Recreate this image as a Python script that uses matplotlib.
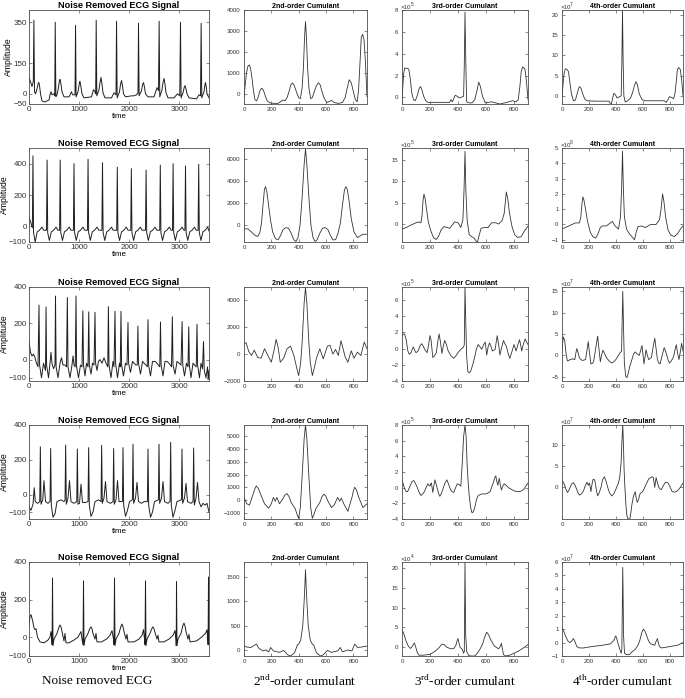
import matplotlib
matplotlib.use("Agg")
import matplotlib.pyplot as plt
import matplotlib.font_manager as fm

# --- DATA ---
# ECG traces: (sample, amplitude) vertices
ECG_1 = [(0, 80), (30, 60), (60, 35), (86, 60), (98, 360), (110, 10), (130, 0), (150, 15), (170, 35), (185, 52),
         (197, 55), (210, 40), (230, 0), (260, -35), (320, -40), (400, -30), (425, 0), (440, 10), (460, -5),
         (500, 0), (515, -10), (525, 350), (537, -15), (560, -5), (585, 25), (600, 50), (612, 68), (623, 70),
         (640, 45), (660, 10), (700, -15), (800, -15), (850, 10), (870, -5), (920, -5), (931, 335),
         (942, -15), (980, 10), (1000, 40), (1012, 58), (1020, 60), (1035, 40), (1060, 0), (1100, -20),
         (1250, -15), (1290, 20), (1320, 10), (1334, 0), (1344, 360), (1356, -10), (1400, 20), (1420, 55),
         (1440, 80), (1458, 50), (1480, 5), (1520, -20), (1650, -20), (1700, 5), (1740, -5), (1751, 355),
         (1763, -20), (1810, 10), (1830, 45), (1850, 65), (1868, 40), (1890, 0), (1930, -15), (2050, -10),
         (2100, -10), (2150, -5), (2180, 5), (2190, 345), (2202, -10), (2250, 15), (2272, 45), (2290, 55),
         (2308, 35), (2330, 0), (2380, -15), (2500, -15), (2560, 30), (2590, 15), (2603, 355), (2615, -15),
         (2660, 20), (2680, 55), (2700, 75), (2718, 50), (2740, 5), (2780, -20), (2900, -20), (2970, 0),
         (3015, -10), (3030, 350), (3042, -20), (3080, 5), (3105, 32), (3120, 40), (3138, 25), (3160, 0),
         (3200, -20), (3350, -25), (3400, -5), (3430, -10), (3443, 345), (3455, -20), (3500, 10),
         (3515, 40), (3530, 55), (3545, 35), (3560, 0), (3600, -20)]

ECG_2 = [(0, 60), (30, 30), (67, -10), (79, 450), (91, -40), (124, -100), (164, -35), (209, -25),
         (259, -5), (294, -25),
         (350, -25), (362, 423), (374, -40), (407, -90), (447, -35), (492, -25), (542, -5), (577, -25),
         (612, -25), (624, 423), (636, -40), (669, -90), (709, -35), (754, -25), (804, -5), (839, -25),
         (888, -25), (900, 400), (912, -40), (945, -90), (985, -35), (1030, -25), (1080, -5), (1115, -25),
         (1169, -25), (1181, 428), (1193, -40), (1226, -90), (1266, -35), (1311, -25), (1361, -5),
         (1396, -25),
         (1458, -25), (1470, 406), (1482, -40), (1515, -90), (1555, -35), (1600, -25), (1650, -5),
         (1685, -25),
         (1754, -25), (1766, 378), (1778, -40), (1811, -90), (1851, -35), (1896, -25), (1946, -5),
         (1981, -25),
         (2035, -25), (2047, 368), (2059, -40), (2092, -90), (2132, -35), (2177, -25), (2227, -5),
         (2262, -25),
         (2330, -25), (2342, 359), (2354, -40), (2387, -90), (2427, -35), (2472, -25), (2522, -5),
         (2557, -25),
         (2614, -25), (2626, 391), (2638, -40), (2671, -90), (2711, -35), (2756, -25), (2806, -5),
         (2841, -25),
         (2870, -25), (2882, 400), (2894, -40), (2927, -90), (2967, -35), (3012, -25), (3062, -5),
         (3097, -25),
         (3118, -25), (3130, 385), (3142, -40), (3175, -90), (3215, -35), (3260, -25), (3310, -5),
         (3345, -25),
         (3382, -25), (3394, 396), (3406, -40), (3439, -90), (3479, -35), (3524, -25), (3574, -5),
         (3600, -30)]

ECG_3 = [(0, 100), (30, 40), (60, 20), (90, 30), (120, 10), (150, -20), (180, -40), (200, 300),
         (212, -30), (250, -100), (290, -20), (310, -40), (330, -60), (341, 290), (352, -30),
         (390, -100), (420, -20), (440, 40), (460, -20), (490, -50), (520, -30), (530, 350),
         (542, -40), (580, -100), (620, -20), (650, 10), (680, -30), (720, -30), (750, -40),
         (767, 342), (780, -40), (820, -100), (860, -30), (880, 20), (900, -30), (925, -40),
         (940, 350), (952, -40), (990, -100), (1030, -30), (1060, -40), (1077, 268), (1090, -30),
         (1120, -90), (1150, -20), (1180, -40), (1195, 263), (1207, -30), (1240, -80), (1270, -20),
         (1300, -30), (1320, 260), (1332, -20), (1360, -60), (1390, -10), (1420, 0), (1460, -20),
         (1500, 10), (1540, -20), (1575, -40), (1588, 292), (1600, -30), (1640, -100), (1680, -10),
         (1700, -40), (1720, 266), (1732, -20), (1770, -100), (1810, -20), (1825, -40), (1840, 266),
         (1852, -30), (1890, -90), (1930, -20), (1960, -30), (1980, 205), (1992, -20), (2030, -70),
         (2070, -10), (2100, -20), (2140, -30), (2165, -30), (2178, 185), (2190, -20), (2230, -80),
         (2270, -10), (2300, -20), (2340, -30), (2365, -40), (2380, 220), (2392, -30), (2430, -90),
         (2470, -10), (2520, -10), (2560, -20), (2615, -40), (2630, 207), (2642, -30), (2680, -90),
         (2720, -10), (2760, -10), (2800, -20), (2850, -40), (2867, 236), (2880, -30), (2920, -80),
         (2960, -10), (3000, -20), (3040, -30), (3062, 210), (3075, -30), (3110, -90), (3150, -20),
         (3180, -40), (3195, 180), (3207, -30), (3240, -100), (3280, -20), (3310, -30), (3345, -40),
         (3360, 195), (3372, -30), (3410, -100), (3440, -20), (3470, -50), (3490, 100), (3505, -60),
         (3540, -100), (3570, -40), (3585, -110), (3600, -60)]

ECG_4 = [(0, -70), (40, -90), (80, -55), (105, 40), (125, -40), (170, -50), (215, -40),
         (227, 275), (240, -55), (275, -30), (300, 80), (330, -40), (380, -50), (421, -40),
         (433, 265), (446, -60), (480, -130), (520, -110), (560, -40), (640, -30), (700, -40), (721, -30),
         (733, 285), (746, -55), (780, -20), (810, 80), (840, -40), (900, -50), (955, -40),
         (967, 262), (980, -55), (1010, -50), (1040, 60), (1070, -45), (1130, -45), (1181, -40),
         (1193, 270), (1206, -60), (1240, -125), (1280, -100), (1320, -40), (1390, -30), (1441, -40),
         (1453, 283), (1466, -50), (1500, -20), (1530, 75), (1560, -40), (1630, -50), (1681, -40),
         (1693, 265), (1706, -55), (1740, -30), (1770, 80), (1800, -40), (1868, -40),
         (1880, 270), (1893, -60), (1930, -125), (1970, -90), (2010, -40), (2068, -30),
         (2080, 290), (2093, -50), (2130, -20), (2160, 70), (2190, -40), (2250, -50), (2300, -40),
         (2368, -40),
         (2380, 262), (2393, -60), (2430, -130), (2470, -100), (2510, -40), (2588, -30),
         (2600, 290), (2613, -50), (2650, -20), (2680, 75), (2710, -40), (2780, -50), (2821, -40),
         (2833, 300), (2846, -60), (2880, -130), (2920, -90), (2960, -40), (3048, -30),
         (3060, 262), (3073, -50), (3110, -20), (3140, 65), (3170, -40), (3240, -50), (3281, -40),
         (3293, 268), (3306, -60), (3340, -20), (3370, 70), (3400, -40), (3440, -70), (3480, -50),
         (3520, -60), (3560, -50), (3600, -100)]

ECG_5 = [(0, 60), (20, 110), (40, 120), (70, 90), (100, 50), (120, 40), (140, 45), (170, 0),
         (220, -25), (300, -30), (380, -15), (420, 0), (440, 30), (455, -5), (462, -40), (470, 315),
         (480, -45), (500, -10), (560, 20), (595, 50), (620, 65), (640, 55), (660, 30), (700, -20),
         (720, 20), (740, -30), (800, -30), (900, -15), (980, 0), (1040, 30), (1060, -10), (1080, -40),
         (1090, 300), (1100, -45), (1120, -10), (1180, 20), (1215, 45), (1240, 55), (1260, 45), (1280, 20),
         (1320, -10), (1340, 20), (1360, -25), (1450, -25), (1550, -10), (1620, 10), (1660, 35), (1690, -10),
         (1700, -40), (1710, 315), (1720, -45), (1740, -10), (1800, 20), (1835, 55), (1860, 70), (1880, 55),
         (1900, 30), (1940, -10), (1960, 15), (1980, -25), (2100, -25), (2200, -10), (2260, 10), (2290, 40),
         (2310, -10), (2320, -40), (2330, 300), (2340, -45), (2360, -10), (2420, 20), (2455, 45), (2480, 55),
         (2500, 45), (2520, 25), (2560, -10), (2580, 10), (2600, -25), (2700, -25), (2800, -10), (2880, 10),
         (2920, 35), (2940, -10), (2945, -45), (2950, 295), (2960, -45), (2980, -10), (3040, 20), (3075, 60),
         (3100, 75), (3120, 60), (3140, 30), (3180, -10), (3200, 15), (3220, -25), (3350, -20), (3450, 0),
         (3530, 20), (3560, 40), (3575, -10), (3582, -40), (3590, 320), (3600, -40)]

# 2nd-order cumulants: (lag, value)
CUM2_1 = [(0, -100), (8, 400), (18, 1000), (28, 1330), (38, 1400), (48, 1250), (58, 800), (68, 250),
          (80, -250), (92, -300), (105, -100), (118, 200), (130, 300), (142, 200), (155, -50), (170, -300),
          (190, -400), (220, -420), (250, -420), (270, -330), (285, -260), (300, -300), (315, -150),
          (330, 150), (342, 450), (355, 550), (368, 420), (385, 100), (400, -150), (412, -200), (425, 300),
          (435, 1300), (443, 2700), (450, 3450), (457, 2700), (465, 1300), (475, 300), (488, -200),
          (500, -150), (515, 150), (530, 420), (545, 550), (558, 450), (570, 150), (585, -150), (605, -380),
          (625, -330), (640, -280), (660, -380), (690, -420), (720, -380), (740, -150), (755, 300),
          (770, 700), (785, 550), (800, 150), (815, -250), (828, -350), (838, 200), (848, 1400),
          (858, 2700), (868, 2850), (878, 2600), (888, 1600), (900, -100)]
CUM2_2 = [(0, -300), (30, -320), (55, -600), (80, -900), (100, -1000), (115, -700), (128, 200),
          (140, 2000), (150, 3300), (158, 3500), (168, 3000), (180, 1800), (195, 400), (210, -600),
          (230, -1200), (250, -1300), (268, -900), (285, -400), (305, -200), (325, -250), (345, -700),
          (365, -1300), (380, -1450), (395, -1100), (410, 0), (425, 2500), (440, 5500), (450, 6900),
          (460, 5500), (475, 2500), (490, 0), (505, -1100), (520, -1450), (535, -1300), (555, -700),
          (575, -250), (595, -200), (615, -400), (632, -900), (650, -1300), (670, -1300), (688, -700),
          (705, 200), (720, 1800), (735, 3200), (745, 3500), (755, 3300), (768, 2300), (785, 600),
          (805, -600), (830, -1100), (850, -950), (870, -800), (900, -800)]
CUM2_3 = [(0, 750), (15, 850), (35, 200), (55, -100), (75, 300), (100, -250), (125, -300), (150, 400),
          (175, -100), (200, -600), (220, 300), (235, 1100), (250, 500), (265, -600), (290, -300),
          (315, 400), (340, 600), (365, -100), (385, -1000), (400, -1600), (415, -600), (425, 800),
          (440, 3800), (450, 4950), (460, 3800), (475, 800), (485, -600), (500, -1600), (515, -1000),
          (530, -300), (555, 400), (580, -350), (610, 600), (630, 650), (650, 0), (670, 350), (690, -100),
          (710, 1000), (740, -200), (760, -600), (785, 250), (805, -300), (830, 150), (855, -100),
          (880, 900), (900, 400)]
CUM2_4 = [(0, 200), (20, -300), (40, -400), (65, 400), (80, 900), (90, 1100), (105, 900), (120, 500),
          (150, -300), (180, -650), (200, -300), (215, 200), (228, -100), (240, 200), (260, -300),
          (285, 100), (300, 400), (315, 500), (330, 250), (345, -200), (375, -700), (390, -1200),
          (400, -1450), (412, -600), (425, 1800), (440, 4800), (450, 5900), (460, 4800), (475, 1800),
          (488, -600), (500, -1450), (510, -1200), (525, -700), (555, -200), (570, 250), (585, 450),
          (600, 300), (610, 0), (640, -600), (660, -400), (685, 200), (700, -100), (712, 150),
          (730, -300), (760, -900), (790, 200), (800, 700), (810, 1000), (822, 800), (840, 200),
          (870, -600), (900, -300)]
CUM2_5 = [(0, 80), (20, 60), (50, 50), (90, 120), (110, 30), (140, -20), (160, 0), (180, -40), (195, 50),
          (215, -20), (260, -50), (290, -10), (320, -100), (340, -125), (370, -60), (390, 100),
          (400, 120), (415, 200), (430, 500), (440, 1000), (445, 1300), (450, 1650), (455, 1300),
          (460, 1000), (470, 500), (485, 200), (500, 120), (510, 100), (530, -60), (560, -125),
          (580, -100), (610, -10), (640, -50), (685, -20), (705, 50), (720, -40), (740, -20), (760, 0),
          (790, -20), (810, 120), (830, 50), (860, 60), (900, 80)]

# 3rd-order cumulants (scaled by 10^exp)
CUM3_1 = [(0, -0.3), (6, 1), (12, 2.2), (20, 2.7), (35, 2.65), (48, 2.6), (58, 1.8), (70, 0.4),
          (82, -0.2), (95, -0.3), (110, 0.2), (122, 0.8), (132, 1.0), (142, 0.7), (155, 0.1), (170, -0.3),
          (185, -0.45), (250, -0.45), (340, -0.45), (350, -0.2), (360, -0.4), (370, -0.1), (380, 0.2),
          (395, 0.1), (410, -0.05), (440, 0.1), (445, 3), (450, 7.8), (456, 3), (462, -0.4), (480, -0.5),
          (500, -0.5), (520, -0.2), (535, 0.6), (548, 1.4), (560, 1.0), (575, 0.1), (595, -0.5),
          (640, -0.4), (700, -0.6), (750, -0.45), (790, -0.3), (815, -0.4), (830, -0.2), (842, 1.0),
          (852, 2.4), (862, 2.8), (878, 2.6), (888, 1.6), (900, -0.2)]
CUM3_2 = [(0, -1.2), (30, -0.8), (60, -0.3), (100, 0.3), (120, 0.5), (135, 0.3), (143, 2), (150, 5.5),
          (157, 7), (165, 6), (175, 3.5), (188, 0.5), (205, -1.5), (225, -3.2), (245, -3.6), (262, -2.8),
          (280, -1.3), (300, -0.6), (320, -0.8), (340, -1), (360, -0.2), (375, 0.5), (400, 0.3),
          (420, -0.8), (435, 1), (443, 8), (450, 17), (456, 8), (465, 1), (480, -2.5), (500, -3),
          (515, -3.3), (530, -4), (540, -4.2), (552, -2.5), (565, -1), (590, -0.8), (615, -0.8),
          (640, 0.3), (670, 0.3), (690, 0), (715, 0.8), (730, 2.5), (745, 7.5), (755, 6), (768, 2.5),
          (785, -0.5), (805, -2.5), (825, -3.1), (850, -3), (875, -1.6), (900, -0.5)]
CUM3_3 = [(0, 1.5), (8, 1.8), (18, 1.8), (30, 1.1), (42, -0.3), (52, -0.7), (65, -0.5), (75, 0.0),
          (82, 0.2), (90, -0.2), (100, -0.5), (115, -0.3), (128, 0.3), (140, 0.6), (152, 0.3), (165, -0.2),
          (180, -0.5), (190, 0.5), (200, 1.6), (208, 1.0), (220, -1.1), (232, -0.9), (245, -0.5),
          (255, 0.8), (265, 1.8), (275, 0.8), (285, -0.6), (295, 0.3), (305, 1), (315, 0.6), (330, -0.3),
          (350, -0.9), (370, -1.2), (385, -0.9), (400, -0.5), (420, -0.1), (440, 0.2), (445, 0.5),
          (450, 7.6), (456, 3), (462, -1), (470, -2.8), (480, -3), (490, -2.8), (505, -2), (520, -1),
          (532, 0), (545, 0.5), (558, 0.2), (570, -0.1), (583, 0.5), (595, 0.8), (605, -0.8), (615, 0.2),
          (625, 0.7), (635, 0.3), (645, -0.3), (665, -0.1), (673, 0.8), (680, 1.6), (690, 0.5),
          (700, -0.8), (712, 0.2), (725, 1), (735, 0.6), (745, 0.3), (758, -0.6), (770, -1.2),
          (785, -0.4), (800, 0.5), (808, 0.1), (815, -0.3), (828, 0.5), (840, 1.1), (848, 0.4),
          (855, -0.3), (868, 0.6), (880, 1.2), (890, 0.8), (900, 0.5)]
CUM3_4 = [(0, 1), (10, 0.4), (20, -0.2), (30, -0.5), (40, -0.5), (50, -0.1), (60, 0.3), (72, 0.8),
          (85, 0.9), (97, 0.5), (110, 0), (122, -0.6), (135, -1), (148, -0.8), (160, -0.5), (172, 0),
          (185, 0.5), (192, 0.3), (200, 0.2), (205, 0.5), (210, 0.6), (215, 0), (220, -0.6), (228, 0.3),
          (235, 1), (243, 0.5), (255, -0.3), (262, -0.8), (270, -1.1), (280, -0.8), (290, -0.3),
          (305, 0.5), (320, 1), (332, 0.5), (345, -0.2), (357, -0.5), (370, -0.6), (383, 0), (395, 0.5),
          (408, 0.4), (420, 0.2), (430, 3), (440, 6.5), (450, 8), (458, 6.5), (465, 3), (472, 0.8),
          (480, -1), (490, -2.5), (500, -3.2), (510, -3.1), (520, -2.5), (532, -1.5), (545, -1),
          (570, -0.8), (600, -0.8), (630, -0.5), (643, 0.2), (655, 0.8), (663, 1.3), (670, 1.5),
          (677, 0.8), (685, 0.3), (690, 0.8), (695, 1.2), (702, 0.4), (710, -0.3), (720, 0.2),
          (730, 0.5), (745, 0.3), (760, 0), (780, -0.2), (800, -0.4), (820, -0.5), (840, -0.5),
          (855, -0.4), (870, -0.2), (885, 0.2), (900, 0.6)]
CUM3_5 = [(0, 4.5), (15, 3.2), (30, 1.5), (45, 0.3), (60, -0.3), (75, 0.3), (88, 1.1), (97, 0.2),
          (108, -1.2), (120, -2), (150, -2), (200, -1.8), (240, -0.9), (265, -0.1), (285, 0.8),
          (300, 0.7), (320, 0), (350, -0.4), (370, -0.3), (385, 0.5), (395, 1.8), (400, 2.2), (406, 1.2),
          (415, 0), (430, -0.5), (440, -1.5), (445, -1), (450, 21.5), (455, 3), (462, -1), (475, -2),
          (490, -2.2), (520, -2.2), (540, -1.4), (560, -0.3), (575, 0.8), (590, 2.5), (605, 3.8),
          (618, 3.2), (635, 1.8), (660, 0.3), (690, -0.4), (703, 0.3), (710, 1), (716, -0.2),
          (725, -1.8), (735, -2.2), (770, -2), (830, -1), (870, -0.1), (900, 0.7)]

# 4th-order cumulants (scaled by 10^exp)
CUM4_1 = [(0, -0.5), (8, 3), (15, 5.5), (25, 6.7), (38, 6.5), (48, 6.0), (58, 3.5), (70, 0.5),
          (85, -1.2), (100, -1), (115, 0.8), (125, 2), (132, 2.3), (142, 1.8), (155, 0.4), (170, -0.8),
          (185, -1.2), (250, -1.3), (350, -1.3), (365, -2.3), (375, -0.8), (385, 0.6), (395, 0.4),
          (410, -0.5), (440, 0), (445, 8), (450, 21.2), (455, 8), (460, 0), (470, -1.5), (490, -1.2),
          (510, -0.5), (525, 0.8), (538, 2.5), (550, 3.5), (560, 2.8), (575, 0.5), (595, -0.9),
          (615, -1.2), (760, -1.2), (775, -1.6), (790, -0.8), (800, -0.2), (815, -0.4), (830, -0.7),
          (840, 0.5), (850, 3.5), (858, 6.5), (868, 7), (880, 6.5), (890, 4), (900, 0)]
CUM4_2 = [(0, -0.3), (50, -0.1), (100, 0.1), (130, 0.1), (140, 0.5), (148, 1.3), (155, 1.8),
          (163, 1.6), (175, 1.0), (190, 0.2), (210, -0.5), (230, -0.8), (250, -0.9), (268, -0.6),
          (285, -0.2), (300, -0.1), (330, -0.1), (360, 0.1), (375, 0.2), (395, -0.1), (420, -0.3),
          (435, 0.5), (444, 2.5), (450, 4.8), (456, 2.5), (464, 0.5), (480, -0.3), (500, -0.6),
          (520, -0.8), (540, -1), (552, -0.5), (565, -0.15), (590, -0.1), (620, -0.2), (660, 0.0),
          (700, 0.0), (725, 0.3), (737, 1), (748, 2.0), (758, 1.5), (772, 0.4), (790, -0.4),
          (810, -0.7), (835, -0.8), (860, -0.6), (885, -0.25), (900, -0.1)]
CUM4_3 = [(0, 1), (5, 3), (10, 4.3), (20, 3.5), (30, 0.5), (40, -1.3), (50, -1.2), (60, -1.0),
          (80, -0.8), (95, -1.0), (103, 0.5), (110, 1.6), (118, 0.8), (130, -0.6), (150, -1.2),
          (175, -1), (185, 1.0), (195, 3.2), (205, 0.5), (215, -2), (225, -1.9), (235, -1.5),
          (250, 1.5), (265, 4.5), (275, 1.5), (285, -1.5), (295, 0.2), (305, 1.2), (315, 0.5),
          (330, -0.5), (350, -1.3), (370, -1.8), (385, -1.5), (400, -1.0), (430, 0.5), (443, 1),
          (452, 15), (458, 6), (464, -2), (475, -5), (483, -5.2), (490, -4.5), (505, -2.5), (520, -1),
          (532, 0.3), (545, 0.8), (560, 0.3), (575, 0), (585, 1.2), (595, 2.3), (603, 0), (610, -2),
          (617, -0.5), (625, 1.3), (635, 0), (645, -1), (665, -0.5), (678, 2), (690, 4), (700, 1.5),
          (710, -1), (720, -1.8), (730, -2), (745, 0), (760, 1.8), (770, 1), (780, 0), (790, -1.2),
          (800, -1.8), (815, -1.2), (830, -0.3), (840, 1.2), (850, 2.5), (860, 0.5), (870, -1),
          (880, 0.8), (890, 2.8), (900, 1)]
CUM4_4 = [(0, 1.5), (10, 1.2), (20, 0.5), (30, -0.5), (40, -1.2), (50, -0.8), (60, 0), (72, 0.8),
          (85, 1.1), (97, 0.5), (110, -0.5), (120, -1.4), (130, -1.8), (145, -1.5), (160, -0.8),
          (172, 0.3), (185, 1.2), (190, 0.9), (195, 0.5), (200, 0.8), (205, 1), (210, 0), (215, -1),
          (222, 0.5), (230, 1.8), (238, 1.9), (245, 1.5), (255, -0.5), (265, -2), (275, -1.4), (290, 0),
          (302, 1.8), (315, 2.5), (327, 1.5), (340, 0), (355, -1.4), (370, -2), (385, -1.5), (400, -0.5),
          (410, 0.3), (420, 1), (430, 2.5), (440, 6), (446, 11), (452, 14.6), (458, 9), (462, 4),
          (468, 0), (475, -4), (482, -6.5), (490, -7.4), (505, -7.4), (512, -6), (520, -4), (532, -2),
          (545, -1), (552, -2.5), (560, -3.5), (570, -2.8), (580, -1.5), (600, -1), (615, 0), (630, 1),
          (645, 2), (660, 2.3), (670, 2.5), (680, 2.3), (685, 1), (690, 0), (695, 1.2), (700, 2.3),
          (710, 1), (720, 0), (730, -0.4), (740, -0.5), (755, 0.5), (770, 1.2), (780, 1.2), (790, 1),
          (805, 0), (820, -1), (835, -1.1), (850, -1), (865, -0.6), (880, 0), (890, 0.5), (900, 1)]
CUM4_5 = [(0, 1.1), (15, 0.8), (30, 0.4), (45, 0.1), (60, 0), (75, 0.15), (85, 0.3), (95, 0.1),
          (110, -0.3), (130, -0.4), (160, -0.4), (220, -0.3), (300, -0.2), (360, -0.1), (385, 0.15),
          (395, 0.4), (400, 0.5), (407, 0.3), (415, 0), (430, -0.5), (440, -0.8), (445, -0.5),
          (452, 5.6), (458, 0.5), (465, -0.8), (480, -0.9), (500, -0.9), (520, -0.7), (545, -0.5),
          (565, -0.2), (580, 0.2), (592, 0.7), (605, 1.0), (615, 0.9), (630, 0.5), (645, 0.1),
          (660, -0.1), (690, -0.2), (700, 0.1), (710, 0.3), (716, 0.0), (725, -0.3), (740, -0.4),
          (800, -0.3), (860, -0.2), (900, 0)]

ECG = [ECG_1, ECG_2, ECG_3, ECG_4, ECG_5]
CUM2 = [CUM2_1, CUM2_2, CUM2_3, CUM2_4, CUM2_5]
CUM3 = [CUM3_1, CUM3_2, CUM3_3, CUM3_4, CUM3_5]
CUM4 = [CUM4_1, CUM4_2, CUM4_3, CUM4_4, CUM4_5]

ECG_YLIM = [(-50, 410), (-100, 500), (-118, 400), (-140, 400), (-100, 400)]
ECG_YTICKS = [[-50, 0, 150, 350], [-100, 0, 200, 400], [-100, 0, 200, 400],
              [-100, 0, 200, 400], [-100, 0, 200, 400]]
CUM2_YLIM = [(-450, 4000), (-1500, 7000), (-2000, 5000), (-1500, 5900), (-125, 1810)]
CUM2_YTICKS = [[0, 1000, 2000, 3000, 4000], [0, 2000, 4000, 6000], [-2000, 0, 2000, 4000],
               [-1000, 0, 1000, 2000, 3000, 4000, 5000], [0, 500, 1000, 1500]]
CUM3_YLIM = [(-0.6, 8), (-4.2, 17.8), (-4, 7.6), (-4, 8), (-2.2, 21.5)]
CUM3_YTICKS = [[0, 2, 4, 6, 8], [0, 5, 10, 15], [-4, -2, 0, 2, 4, 6], [-4, -2, 0, 2, 4, 6, 8],
               [0, 5, 10, 15, 20]]
CUM3_EXP = [5, 5, 5, 5, 4]
CUM4_YLIM = [(-2, 21.2), (-1.15, 5), (-6, 16), (-7.4, 14.6), (-1, 6)]
CUM4_YTICKS = [[0, 5, 10, 15, 20], [-1, 0, 1, 2, 3, 4, 5], [-5, 0, 5, 10, 15], [0, 5, 10],
               [-1, 0, 1, 2, 3, 4, 5, 6]]
CUM4_EXP = [7, 8, 7, 7, 7]

COL_LABELS = ["Noise removed ECG", r"2$^{\mathrm{nd}}$-order cumulant",
              r"3$^{\mathrm{rd}}$-order cumulant", r"4$^{\mathrm{th}}$-order cumulant"]

# --- LAYOUT (pixels) ---
W, H = 685, 698
COL_X = [(29, 209), (244, 367), (402, 528), (562, 683)]
ROW_TOP = [10, 148, 287, 425, 562]
AX_H = 94

names = {f.name for f in fm.fontManager.ttflist}
SANS = "Liberation Sans" if "Liberation Sans" in names else "DejaVu Sans"
NARROW = "Liberation Sans Narrow" if "Liberation Sans Narrow" in names else SANS
SERIF = "Liberation Serif" if "Liberation Serif" in names else "DejaVu Serif"

plt.rcParams["font.family"] = [SANS, "DejaVu Sans"]
plt.rcParams["mathtext.fontset"] = "custom"
plt.rcParams["mathtext.rm"] = SERIF

FRAME = "#4d4d4d"
LINE = "#1f1f1f"


def make_ax(fig, col, row):
    x0, x1 = COL_X[col]
    top = ROW_TOP[row]
    ax = fig.add_axes([x0 / W, 1 - (top + AX_H) / H, (x1 - x0) / W, AX_H / H])
    for s in ax.spines.values():
        s.set_color(FRAME)
        s.set_linewidth(0.6)
    ax.tick_params(direction="in", top=True, right=True, length=2, width=0.4,
                   colors="#333333", pad=2)
    return ax


def draw_series(ax, pts, color, lw):
    xs = [p[0] for p in pts]
    ys = [p[1] for p in pts]
    ax.plot(xs, ys, color=color, lw=lw, solid_joinstyle="round")


fig = plt.figure(figsize=(W / 100, H / 100), dpi=100)

for r in range(5):
    # ECG column
    ax = make_ax(fig, 0, r)
    draw_series(ax, ECG[r], LINE, 0.7)
    ax.set_xlim(0, 3600)
    ax.set_ylim(*ECG_YLIM[r])
    ax.set_xticks([0, 1000, 2000, 3000])
    ax.set_yticks(ECG_YTICKS[r])
    ax.tick_params(labelsize=5.8, pad=1.5)
    ax.set_title("Noise Removed ECG Signal", fontsize=6.6, fontweight="bold", pad=1.5)
    ax.set_ylabel("Amplitude", fontsize=6.2, labelpad=0)
    ax.set_xlabel("time", fontsize=5.8, labelpad=0)

    # cumulant columns
    specs = [(CUM2[r], CUM2_YLIM[r], CUM2_YTICKS[r], None, "2nd-order Cumulant"),
             (CUM3[r], CUM3_YLIM[r], CUM3_YTICKS[r], CUM3_EXP[r], "3rd-order Cumulant"),
             (CUM4[r], CUM4_YLIM[r], CUM4_YTICKS[r], CUM4_EXP[r], "4th-order Cumulant")]
    for c, (pts, ylim, yt, exp, title) in enumerate(specs, start=1):
        ax = make_ax(fig, c, r)
        draw_series(ax, pts, "#333333", 0.6)
        ax.set_xlim(0, 900)
        ax.set_ylim(*ylim)
        ax.set_xticks([0, 200, 400, 600, 800])
        ax.set_yticks(yt)
        ax.tick_params(labelsize=4.4, pad=2.5)
        for lab in ax.get_xticklabels() + ax.get_yticklabels():
            lab.set_family([NARROW, "DejaVu Sans"])
        ax.set_title(title, fontsize=5.0, fontweight="bold", family=[NARROW, "DejaVu Sans"], pad=1.2)
        if exp is not None:
            ax.text(-0.01, 1.005, "\u00d710", transform=ax.transAxes, fontsize=4.4,
                    family=[NARROW, "DejaVu Sans"], color="#333333", ha="left", va="bottom")
            ax.text(0.068, 1.035, str(exp), transform=ax.transAxes, fontsize=3.5,
                    family=[NARROW, "DejaVu Sans"], color="#333333", ha="left", va="bottom")

# bottom column captions
centers = [97, 305, 465, 623]
for cx, lab in zip(centers, COL_LABELS):
    fig.text(cx / W, 1 - 681 / H, lab, ha="center", va="center", fontsize=9.5, family=SERIF)

fig.savefig("out.png", dpi=100)
